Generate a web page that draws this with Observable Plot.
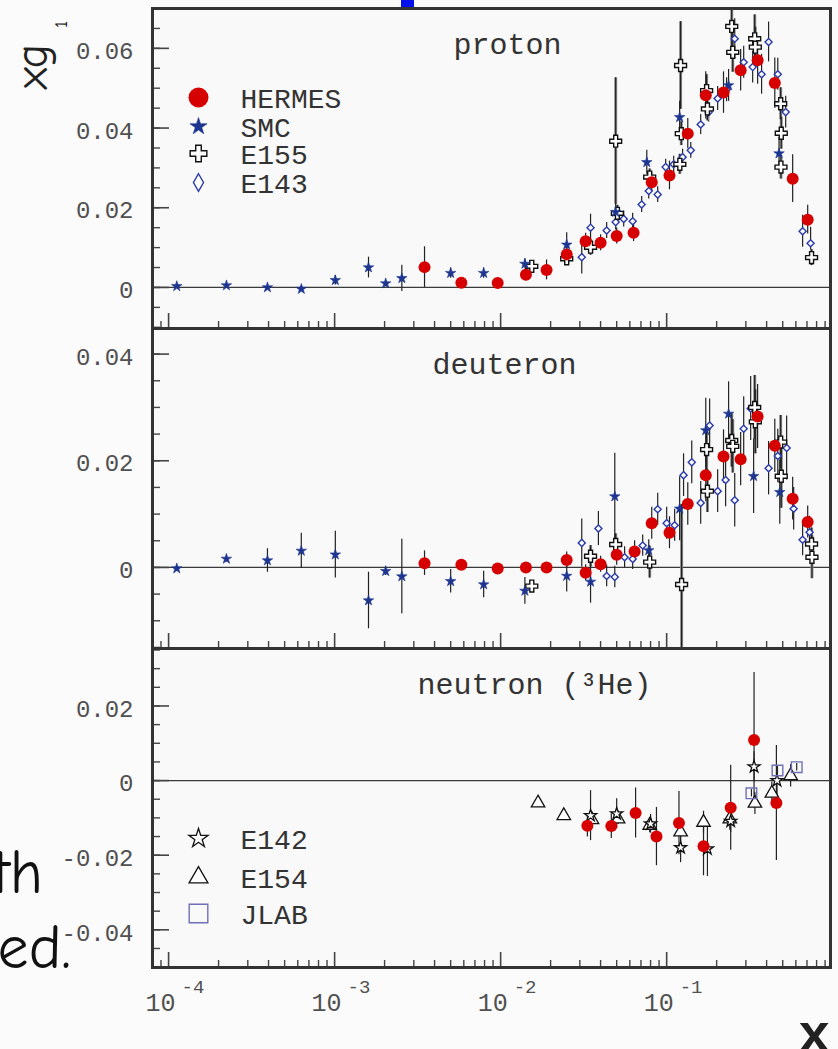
<!DOCTYPE html>
<html><head><meta charset="utf-8">
<script src="https://cdn.jsdelivr.net/npm/d3@7"></script>
<script src="https://cdn.jsdelivr.net/npm/@observablehq/plot@0.6"></script>
<style>
html,body{margin:0;padding:0;background:#fbfbfb;}
#wrap{position:relative;width:838px;height:1049px;overflow:hidden;}
#wrap svg.pnl{position:absolute;left:0;}
#deco{position:absolute;left:0;top:0;}
</style></head><body><div id="wrap"></div>
<script>
// ---------- data: [x, xg1, error] ----------
const protonHERMES = [
[0.00348,0.0051,0.0051],[0.0058,0.0012,0.0008],[0.0096,0.0011,0.0006],[0.0142,0.0032,0.0015],
[0.0189,0.0044,0.0025],[0.0250,0.0083,0.0022],[0.0325,0.0116,0.0020],[0.0400,0.0112,0.0020],
[0.0500,0.0129,0.0020],[0.0632,0.0137,0.0022],[0.0813,0.0264,0.0023],[0.1040,0.0281,0.0036],
[0.1340,0.0386,0.0038],[0.1720,0.0482,0.0059],[0.2200,0.0489,0.0052],[0.2790,0.0545,0.0052],
[0.3530,0.0570,0.0060],[0.4480,0.0513,0.0063],[0.5740,0.0273,0.0060],[0.7070,0.0170,0.0036]];
const protonSMC = [
[1.12e-4,0.0003,0.0004],[2.23e-4,0.0005,0.0004],[3.94e-4,0.0000,0.0004],[6.3e-4,-0.0004,0.0006],
[1.01e-3,0.0018,0.0012],[1.6e-3,0.0050,0.0026],[2.03e-3,0.0010,0.0008],[2.54e-3,0.0023,0.0033],
[0.0050,0.0036,0.0013],[0.0079,0.0036,0.0013],[0.0140,0.0059,0.0013],[0.0250,0.0107,0.0030],
[0.0493,0.0189,0.0020],[0.0759,0.0314,0.0030],[0.1197,0.0427,0.0040],[0.2360,0.0507,0.0040],
[0.4750,0.0336,0.0040]];
const protonE155 = [
[0.0154,0.0053,0.0008],[0.0250,0.0072,0.0015],[0.0348,0.0101,0.0020],[0.0493,0.0367,0.0159],
[0.0505,0.0186,0.0020],[0.0790,0.0277,0.0020],[0.1213,0.0557,0.0110],[0.1225,0.0386,0.0030],
[0.1200,0.0309,0.0025],[0.1740,0.0494,0.0040],[0.1760,0.0448,0.0030],[0.2465,0.0655,0.0060],
[0.2500,0.0590,0.0050],[0.3390,0.0624,0.0060],[0.3420,0.0603,0.0050],[0.4860,0.0461,0.0040],
[0.4900,0.0387,0.0040],[0.4880,0.0302,0.0030],[0.7460,0.0075,0.0020]];
const protonE143 = [
[0.0308,0.0076,0.0042],[0.0348,0.0150,0.0034],[0.0435,0.0143,0.0020],[0.0493,0.0164,0.0020],
[0.0551,0.0172,0.0020],[0.0624,0.0166,0.0020],[0.0707,0.0208,0.0020],[0.0780,0.0242,0.0020],
[0.0883,0.0233,0.0020],[0.0986,0.0302,0.0020],[0.1102,0.0309,0.0020],[0.1247,0.0327,0.0020],
[0.1397,0.0344,0.0020],[0.1603,0.0409,0.0025],[0.1790,0.0440,0.0025],[0.2028,0.0474,0.0030],
[0.2296,0.0496,0.0030],[0.2570,0.0624,0.0050],[0.2910,0.0565,0.0040],[0.3296,0.0553,0.0040],
[0.3730,0.0535,0.0050],[0.4110,0.0616,0.0050],[0.4670,0.0535,0.0040],[0.5210,0.0440,0.0040],
[0.6590,0.0141,0.0040],[0.7360,0.0111,0.0040]];

const deuteronHERMES = [
[0.00348,0.0008,0.0023],[0.0058,0.0005,0.0005],[0.0096,-0.0002,0.0005],[0.0142,0.0000,0.0005],
[0.0189,0.0000,0.0005],[0.0250,0.0014,0.0015],[0.0325,-0.0010,0.0015],[0.0400,0.0006,0.0015],
[0.0500,0.0024,0.0020],[0.0641,0.0030,0.0020],[0.0813,0.0083,0.0030],[0.1040,0.0065,0.0030],
[0.1340,0.0119,0.0040],[0.1720,0.0173,0.0050],[0.2200,0.0208,0.0050],[0.2790,0.0203,0.0050],
[0.3530,0.0283,0.0060],[0.4480,0.0228,0.0050],[0.5740,0.0129,0.0040],[0.7070,0.0085,0.0030]];
const deuteronSMC = [
[1.12e-4,-0.0002,0.0005],[2.23e-4,0.0016,0.0006],[3.94e-4,0.0013,0.0022],[6.3e-4,0.0031,0.0033],
[1.01e-3,0.0024,0.0044],[1.6e-3,-0.0062,0.0053],[2.03e-3,-0.0007,0.0008],[2.54e-3,-0.0017,0.0070],
[0.0050,-0.0026,0.0022],[0.0079,-0.0032,0.0025],[0.0140,-0.0044,0.0025],[0.0250,-0.0016,0.0030],
[0.0348,-0.0027,0.0040],[0.0487,0.0133,0.0081],[0.0780,0.0032,0.0020],[0.1197,0.0110,0.0060],
[0.1720,0.0257,0.0060],[0.2360,0.0288,0.0060],[0.3340,0.0171,0.0070],[0.4800,0.0141,0.0060]];
const deuteronE155 = [
[0.0154,-0.0035,0.0008],[0.0348,0.0021,0.0020],[0.0493,0.0043,0.0020],[0.0790,0.0010,0.0030],
[0.1230,-0.0032,0.0150],[0.1740,0.0221,0.0040],[0.1760,0.0143,0.0040],[0.2465,0.0238,0.0050],
[0.2500,0.0227,0.0050],[0.3390,0.0300,0.0060],[0.3420,0.0273,0.0060],[0.4860,0.0235,0.0050],
[0.4900,0.0171,0.0060],[0.7460,0.0044,0.0030],[0.7500,0.0019,0.0040]];
const deuteronE143 = [
[0.0308,0.0046,0.0045],[0.0388,0.0073,0.0032],[0.0435,-0.0016,0.0020],[0.0487,-0.0018,0.0020],
[0.0558,0.0019,0.0020],[0.0624,0.0016,0.0020],[0.0717,0.0041,0.0020],[0.0883,0.0109,0.0030],
[0.1000,0.0083,0.0030],[0.1117,0.0079,0.0030],[0.1264,0.0173,0.0040],[0.1416,0.0197,0.0040],
[0.1603,0.0121,0.0040],[0.1815,0.0266,0.0050],[0.2028,0.0143,0.0040],[0.2265,0.0164,0.0050],
[0.2570,0.0126,0.0050],[0.2910,0.0260,0.0060],[0.3206,0.0298,0.0060],[0.4110,0.0186,0.0050],
[0.4670,0.0209,0.0050],[0.5280,0.0224,0.0060],[0.5820,0.0110,0.0040],[0.6590,0.0052,0.0030],
[0.7260,0.0066,0.0030]];

const neutronHERMES = [
[0.0333,-0.0121,0.0030],[0.0464,-0.0122,0.0033],[0.0650,-0.0087,0.0067],[0.0868,-0.0150,0.0078],
[0.1186,-0.0114,0.0085],[0.1667,-0.0176,0.0079],[0.2430,-0.0073,0.0114],[0.3360,0.0109,0.0181],
[0.4580,-0.0060,0.0154]];
const neutronE142 = [
[0.0348,-0.0094,0.0067],[0.0500,-0.0089,0.0040],[0.0800,-0.0116,0.0025],[0.1213,-0.0180,0.0040],
[0.1760,-0.0183,0.0074],[0.2430,-0.0109,0.0030],[0.3360,0.0037,0.0040],[0.4620,0.0000,0.0040]];
const neutronE154 = [
[0.0168,-0.0060,0.0010],[0.0240,-0.0094,0.0010],[0.0355,-0.0105,0.0015],[0.0510,-0.0103,0.0015],
[0.0790,-0.0120,0.0020],[0.1213,-0.0138,0.0030],[0.1667,-0.0112,0.0030],[0.2400,-0.0103,0.0030],
[0.3400,-0.0061,0.0030],[0.4300,-0.0034,0.0030],[0.5580,0.0013,0.0030]];
const neutronJLAB = [[0.3240,-0.0034,0.0010],[0.4650,0.0027,0.0010],[0.6070,0.0036,0.0010]];

// ---------- axes ----------
const xDomain = [8e-5, 0.97];
const xMajor = [1e-4, 1e-3, 1e-2, 1e-1];
const xExponents = ["-4", "-3", "-2", "-1"];
const xMinor = [];
for (const d of [1e-5, 1e-4, 1e-3, 1e-2, 1e-1]) for (let k = 2; k <= 9; k++) {
  const v = k * d; if (v > xDomain[0] && v < xDomain[1]) xMinor.push(v);
}
const protonDomain = [-0.0103, 0.070];
const deuteronDomain = [-0.0152, 0.0448];
const neutronDomain = [-0.0501, 0.0354];
const protonTicks = [0, 0.02, 0.04, 0.06];
const deuteronTicks = [0, 0.02, 0.04];
const neutronTicks = [-0.04, -0.02, 0, 0.02];
const tickLabel = v => v === 0 ? "0" : v.toFixed(2);

const mono = "Liberation Mono, DejaVu Sans Mono, monospace";
const styles = {
  HERMES: {symbol: "circle", r: 6, fill: "#d60000", stroke: "none"},
  SMC: {symbol: "star", r: 3.3, fill: "#1d3590", stroke: "#1d3590", strokeWidth: 0.6},
  E155: {symbol: "cross", r: 5, fill: "#ffffff", stroke: "#111", strokeWidth: 1.4},
  E143: {symbol: "diamond2", r: 3.2, fill: "#ffffff", stroke: "#2a3aa8", strokeWidth: 1.4},
  E142: {symbol: "star", r: 3.8, fill: "#ffffff", stroke: "#111", strokeWidth: 1.3},
  E154: {symbol: "triangle", r: 5, fill: "#ffffff", stroke: "#111", strokeWidth: 1.3},
  JLAB: {symbol: "square", r: 6, fill: "none", stroke: "#6f6fb8", strokeWidth: 1.4}
};
const legendStyle = {
  HERMES: {r: 10}, SMC: {r: 5.4}, E155: {r: 7}, E143: {symbol: "diamond", r: 5.3},
  E142: {r: 6}, E154: {r: 7}, JLAB: {r: 10.5}
};

function panel(cfg) {
  const {yDomain, top, height, mt, mb, series, yTicks, title, titleDx, legend, legendRows, xLabels} = cfg;
  const ml = 152, mr = 8;
  const fw = 838 - ml - mr, fh = height - mt - mb;
  const cy = v => Math.max(yDomain[0], Math.min(yDomain[1], v));
  const yMinor = d3.range(Math.ceil(yDomain[0] / 0.005), Math.floor(yDomain[1] / 0.005) + 1).map(k => k * 0.005);
  const marks = [
    Plot.frame({fill: "#f9f9f9"}),
    Plot.ruleY([0], {stroke: "#3a3a3a", strokeWidth: 1.3}),
    Plot.tickY(yMinor, {y: d => d, insetRight: fw - 8, stroke: "#444", strokeWidth: 1.4}),
    Plot.tickY(yTicks, {y: d => d, insetRight: fw - 17, stroke: "#444", strokeWidth: 1.6}),
    Plot.tickX(xMinor, {x: d => d, insetTop: fh - 7, stroke: "#444", strokeWidth: 1.4}),
    Plot.tickX(xMajor, {x: d => d, insetTop: fh - 15, stroke: "#444", strokeWidth: 1.6}),
    Plot.text(yTicks, {y: d => d, frameAnchor: "left", textAnchor: "end", dx: -19, dy: 3,
      text: tickLabel, fontFamily: mono, fontSize: 24, fill: "#505050"})
  ];
  for (const [name, data] of series) {
    if (name === "E155") marks.push(Plot.ruleX(data, {x: d => d[0], y1: d => cy(d[1] - d[2]), y2: d => cy(d[1] + d[2]), stroke: "#8c8c8c", strokeWidth: 3}));
    marks.push(Plot.ruleX(data, {x: d => d[0], y1: d => cy(d[1] - d[2]), y2: d => cy(d[1] + d[2]), stroke: "#222", strokeWidth: 1.2}));
  }
  for (const [name, data] of series) {
    marks.push(Plot.dot(data, {x: d => d[0], y: d => d[1], ...styles[name]}));
  }
  marks.push(Plot.text([title], {frameAnchor: "top-left", dx: titleDx, dy: 45, lineAnchor: "bottom",
    textAnchor: "start", text: d => d, fontFamily: mono, fontSize: 30, fill: "#333",
    style: "letter-spacing:0.6px"}));
  legend.forEach((name, i) => {
    const row = legendRows[i];
    marks.push(Plot.dot([name], {frameAnchor: "top-left", dx: 46, dy: row, ...styles[name], ...legendStyle[name]}));
    marks.push(Plot.text([name], {frameAnchor: "top-left", dx: 88, dy: row + 10, lineAnchor: "bottom",
      textAnchor: "start", text: d => d, fontFamily: mono, fontSize: 28, fill: "#333"}));
  });
  if (xLabels) {
    marks.push(Plot.text(xMajor, {x: d => d, frameAnchor: "bottom", text: () => "10", textAnchor: "end",
      dx: 7, dy: 43, lineAnchor: "bottom", fontFamily: mono, fontSize: 25, fill: "#505050"}));
    marks.push(Plot.text(xMajor, {x: d => d, frameAnchor: "bottom", text: (d, i) => xExponents[i], textAnchor: "start",
      dx: 13, dy: 25, lineAnchor: "bottom", fontFamily: mono, fontSize: 19, fill: "#505050"}));
  }
  marks.push(Plot.frame({stroke: "#333", strokeWidth: 3}));
  const svg = Plot.plot({
    width: 838, height, marginLeft: ml, marginRight: mr, marginTop: mt, marginBottom: mb,
    x: {type: "log", domain: xDomain, axis: null},
    y: {domain: yDomain, axis: null},
    style: {background: "transparent", overflow: "visible"},
    marks
  });
  svg.classList.add("pnl");
  svg.style.top = top + "px";
  document.getElementById("wrap").appendChild(svg);
}

// decorations (slide fragments & axis titles)
const deco = d3.select("#wrap").append("svg").attr("id", "deco").attr("width", 838).attr("height", 1049);
deco.append("rect").attr("x", 401).attr("y", 0).attr("width", 13).attr("height", 7).attr("fill", "#0010ee");
const comic = "Comic Sans MS, Comic Neue, DejaVu Sans, sans-serif";
deco.append("text").attr("x", 43).attr("y", 893).attr("text-anchor", "end").attr("font-family", comic).attr("font-size", 62).attr("fill", "#111").text("th");
deco.append("text").attr("x", 71).attr("y", 968).attr("text-anchor", "end").attr("font-family", comic).attr("font-size", 62).attr("fill", "#111").text("ed.");
deco.append("text").attr("transform", "translate(47,89) rotate(-90)").attr("font-family", comic).attr("font-size", 46).attr("fill", "#222").text("xg");
deco.append("text").attr("transform", "translate(67,28) rotate(-90)").attr("font-family", comic).attr("font-size", 18).attr("fill", "#222").text("1");
deco.append("text").attr("x", 798).attr("y", 1051).attr("font-family", mono).attr("font-weight", "bold").attr("font-size", 54).attr("fill", "#222").text("x");

panel({yDomain: protonDomain, top: 0, height: 330, mt: 8, mb: 2, yTicks: protonTicks,
  series: [["E143", protonE143], ["E155", protonE155], ["SMC", protonSMC], ["HERMES", protonHERMES]],
  title: "proton", titleDx: 301, legend: ["HERMES", "SMC", "E155", "E143"], legendRows: [89, 118, 145, 174]});
panel({yDomain: deuteronDomain, top: 326, height: 324, mt: 2, mb: 2, yTicks: deuteronTicks,
  series: [["E143", deuteronE143], ["E155", deuteronE155], ["SMC", deuteronSMC], ["HERMES", deuteronHERMES]],
  title: "deuteron", titleDx: 280, legend: [], legendRows: []});
panel({yDomain: neutronDomain, top: 646, height: 403, mt: 2, mb: 82, yTicks: neutronTicks,
  series: [["E154", neutronE154], ["E142", neutronE142], ["JLAB", neutronJLAB], ["HERMES", neutronHERMES]],
  title: "neutron (³He)", titleDx: 265, legend: ["E142", "E154", "JLAB"], legendRows: [190, 229, 265], xLabels: true});
</script></body></html>
